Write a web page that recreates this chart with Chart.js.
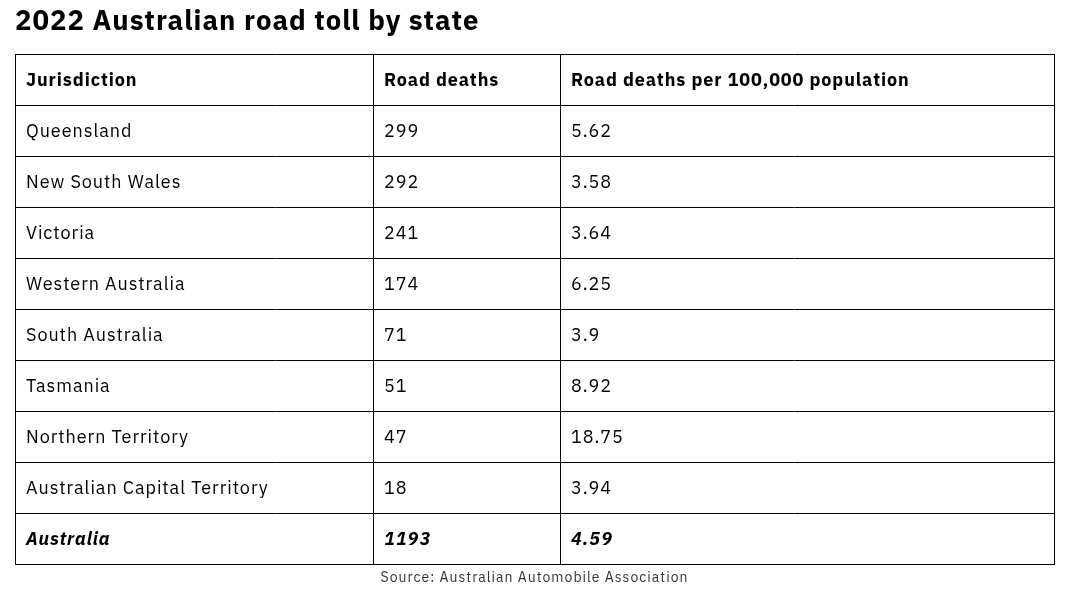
<!DOCTYPE html>
<html>
<head>
<meta charset="utf-8">
<script src="https://cdn.jsdelivr.net/npm/chart.js@4"></script>
<style>
  html, body { margin: 0; padding: 0; background: #fff; }
  #tableChart { display: block; }
</style>
</head>
<body>
<canvas id="tableChart" width="1067" height="594"></canvas>
<script>
// Daten der Tabelle
const columnHeaders = ['Jurisdiction', 'Road deaths', 'Road deaths per 100,000 population'];
const jurisdictions = [
  'Queensland', 'New South Wales', 'Victoria', 'Western Australia',
  'South Australia', 'Tasmania', 'Northern Territory', 'Australian Capital Territory'
];
const roadDeaths = [299, 292, 241, 174, 71, 51, 47, 18];
const deathsPer100k = [5.62, 3.58, 3.64, 6.25, 3.9, 8.92, 18.75, 3.94];
const totalLabel = 'Australia';
const totalDeaths = 1193;
const totalPer100k = 4.59;

// Zeilen: Kopf, Staaten, Summe
const rowLabels = [columnHeaders[0]].concat(jurisdictions, [totalLabel]);
// Spaltengrenzen in Tabellen-Einheiten
const colEdges = [0, 358, 545, 1039];

const FONT = '"IBM Plex Sans", "Noto Sans", sans-serif';

// etwas breitere Schrift, damit sie wie IBM Plex wirkt
const spacingPlugin = {
  id: 'spacing',
  beforeDraw(chart) {
    chart.ctx.letterSpacing = '1px';
  }
};

const cellPlugin = {
  id: 'cells',
  afterDraw(chart) {
    const ctx = chart.ctx;
    const x = chart.scales.x;
    const y = chart.scales.y;
    ctx.save();
    ctx.textBaseline = 'middle';
    ctx.textAlign = 'left';
    ctx.fillStyle = '#000';
    rowLabels.forEach((label, i) => {
      const py = y.getPixelForValue(i);
      let cells, font;
      if (i === 0) {
        cells = columnHeaders;
        font = 'bold 18px ' + FONT;
        ctx.letterSpacing = '0.9px';
      } else if (i === rowLabels.length - 1) {
        cells = [totalLabel, String(totalDeaths), String(totalPer100k)];
        font = 'italic bold 18px ' + FONT;
        ctx.letterSpacing = '1px';
      } else {
        cells = [label, String(roadDeaths[i - 1]), String(deathsPer100k[i - 1])];
        font = '18px ' + FONT;
        ctx.letterSpacing = '0.95px';
      }
      ctx.font = font;
      cells.forEach((txt, c) => {
        ctx.fillText(txt, x.getPixelForValue(colEdges[c]) + 11, py + 1);
      });
    });
    ctx.restore();
  }
};

new Chart(document.getElementById('tableChart'), {
  type: 'bar',
  data: {
    labels: rowLabels,
    datasets: [{ data: [] }]
  },
  options: {
    indexAxis: 'y',
    responsive: false,
    animation: false,
    layout: { padding: { left: 15, right: 13, top: 0, bottom: 0 } },
    plugins: {
      legend: { display: false },
      tooltip: { enabled: false },
      title: {
        display: true,
        text: '2022 Australian road toll by state',
        align: 'start',
        color: '#000',
        font: { family: FONT, size: 27.5, weight: 'bold' },
        padding: { top: 6, bottom: 15 }
      },
      subtitle: {
        display: true,
        position: 'bottom',
        text: 'Source: Australian Automobile Association',
        color: '#333',
        font: { family: FONT, size: 14, weight: 'normal' },
        padding: { top: 5, bottom: 8 }
      }
    },
    scales: {
      x: {
        type: 'linear',
        min: colEdges[0],
        max: colEdges[colEdges.length - 1],
        afterBuildTicks: (scale) => {
          scale.ticks = colEdges.map(v => ({ value: v }));
        },
        ticks: { display: false },
        grid: { color: '#000', lineWidth: 1, drawTicks: false },
        border: { display: true, color: '#000', width: 1 }
      },
      y: {
        type: 'category',
        offset: true,
        ticks: { display: false },
        grid: { offset: true, color: '#000', lineWidth: 1, drawTicks: false },
        border: { display: true, color: '#000', width: 1 }
      }
    }
  },
  plugins: [spacingPlugin, cellPlugin]
});
</script>
</body>
</html>
